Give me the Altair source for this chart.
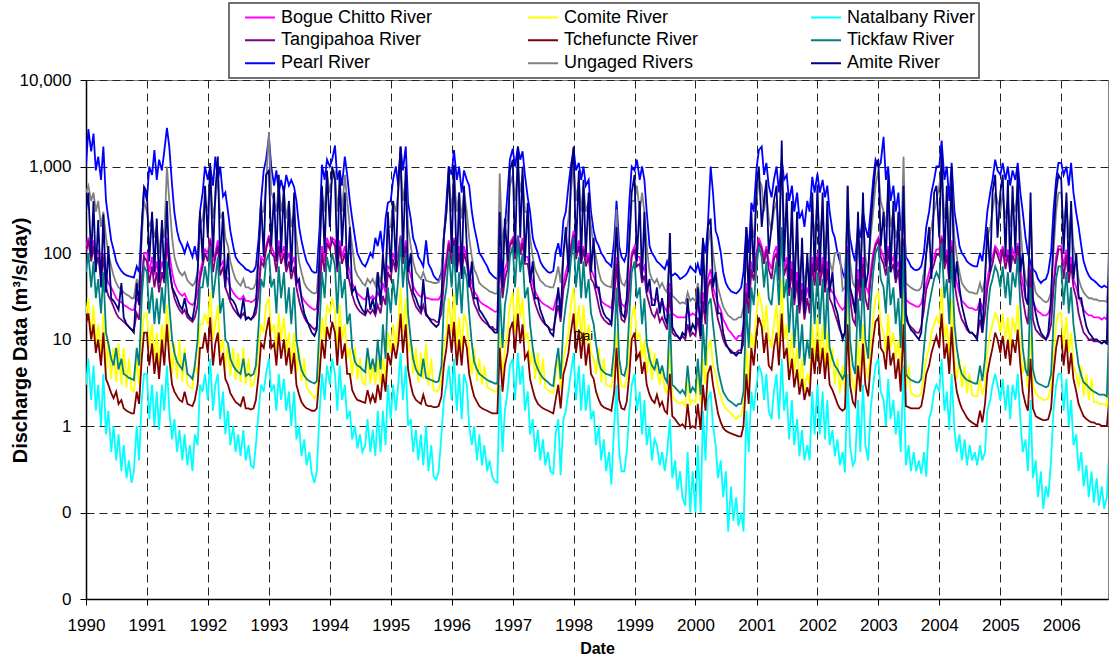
import altair as alt
import pandas as pd

SERIES = ["Bogue Chitto River", "Comite River", "Natalbany River",
          "Tangipahoa River", "Tchefuncte River", "Tickfaw River",
          "Pearl River", "Ungaged Rivers", "Amite River"]
COLORS = ["#FF00FF", "#FFFF00", "#00FFFF", "#800080", "#800000",
          "#008080", "#0000FF", "#808080", "#000080"]
YEARS = list(range(1990, 2007))

# semi-monthly readings (1st and 15th of each month), one row per year, 1990 .. Oct 2006
pearl = [
    [1000, 2700, 1500, 2400, 900, 1300, 700, 1700, 400, 250, 140, 110, 80, 70, 62, 58, 55, 54, 53, 52, 70, 60, 200, 580],
    [400, 1000, 800, 1550, 700, 1200, 900, 1500, 2800, 1700, 600, 290, 180, 140, 120, 100, 130, 110, 90, 120, 80, 300, 500, 1000],
    [700, 1000, 600, 1300, 700, 1000, 450, 500, 300, 180, 120, 90, 80, 75, 70, 65, 63, 60, 62, 70, 150, 400, 900, 1200],
    [2200, 1000, 600, 900, 500, 700, 500, 800, 600, 700, 580, 400, 200, 140, 100, 80, 70, 62, 59, 60, 200, 1050, 700, 1200],
    [1000, 1200, 1750, 700, 900, 600, 1300, 800, 400, 250, 150, 100, 85, 75, 70, 80, 100, 90, 150, 120, 180, 100, 250, 380],
    [400, 700, 1000, 600, 1700, 900, 1700, 380, 250, 150, 120, 90, 80, 70, 140, 75, 65, 55, 50, 48, 60, 150, 400, 1000],
    [800, 1550, 700, 1000, 500, 900, 700, 600, 300, 200, 140, 100, 90, 80, 70, 60, 55, 52, 50, 55, 150, 200, 500, 1200],
    [1600, 1000, 1700, 1200, 1500, 800, 440, 300, 150, 120, 100, 80, 70, 65, 60, 59, 62, 100, 130, 90, 240, 300, 600, 1000],
    [1600, 900, 1100, 700, 1000, 600, 700, 300, 180, 140, 120, 100, 90, 80, 75, 70, 140, 400, 120, 90, 80, 100, 400, 1000],
    [900, 1200, 700, 1000, 700, 300, 120, 100, 90, 80, 75, 70, 65, 80, 60, 55, 58, 55, 50, 52, 55, 60, 70, 65],
    [60, 75, 55, 140, 100, 200, 1000, 500, 180, 150, 100, 60, 45, 40, 36, 35, 34, 36, 40, 60, 200, 100, 380, 300],
    [950, 1550, 1700, 800, 1100, 600, 440, 700, 1000, 500, 1200, 700, 800, 400, 600, 300, 500, 250, 300, 200, 400, 300, 760, 500],
    [830, 500, 700, 440, 600, 300, 180, 150, 100, 80, 60, 50, 300, 150, 100, 80, 200, 150, 300, 200, 150, 300, 700, 1200],
    [1000, 1100, 2200, 700, 1000, 400, 600, 300, 500, 180, 300, 90, 80, 70, 65, 63, 65, 70, 100, 200, 300, 500, 700, 1000],
    [1000, 2000, 700, 1000, 400, 1100, 300, 200, 120, 100, 90, 80, 75, 72, 70, 70, 100, 80, 150, 300, 500, 700, 1200, 900],
    [800, 1100, 700, 1000, 600, 900, 700, 1100, 500, 300, 150, 100, 77, 65, 60, 50, 45, 48, 50, 60, 100, 300, 700, 1100],
    [1100, 800, 1000, 600, 1100, 500, 290, 200, 120, 80, 63, 55, 50, 48, 45, 42, 40, 42, 40, 40],
]

amite = [
    [300, 500, 90, 400, 60, 240, 40, 280, 35, 120, 30, 28, 25, 22, 45, 18, 15, 14, 13, 12, 45, 25, 200, 580],
    [500, 80, 300, 60, 250, 45, 240, 50, 400, 70, 40, 35, 30, 25, 22, 30, 20, 18, 17, 25, 60, 300, 80, 600],
    [150, 1100, 90, 500, 1300, 70, 300, 40, 100, 30, 28, 25, 20, 18, 30, 17, 18, 17, 19, 25, 100, 400, 90, 800],
    [900, 120, 500, 80, 800, 100, 600, 70, 400, 60, 500, 45, 50, 30, 20, 17, 14, 12, 11, 13, 100, 600, 100, 900],
    [200, 1000, 700, 70, 900, 120, 500, 50, 200, 35, 40, 30, 25, 22, 20, 40, 22, 30, 20, 60, 25, 100, 40, 300],
    [60, 400, 70, 600, 1700, 90, 1000, 60, 100, 35, 30, 25, 22, 50, 20, 18, 16, 15, 14, 15, 30, 150, 300, 1000],
    [100, 1050, 60, 500, 50, 600, 120, 40, 80, 30, 30, 22, 20, 18, 16, 14, 13, 12, 12, 300, 40, 250, 80, 900],
    [1200, 100, 1700, 150, 1000, 80, 380, 45, 80, 30, 30, 22, 18, 15, 14, 12, 11, 20, 40, 18, 100, 200, 60, 700],
    [1700, 100, 900, 80, 700, 90, 500, 60, 150, 40, 40, 25, 20, 18, 17, 15, 60, 200, 40, 20, 18, 30, 150, 500],
    [800, 80, 400, 50, 300, 35, 50, 25, 25, 40, 20, 30, 18, 15, 170, 14, 12, 11, 10, 12, 11, 30, 12, 15],
    [13, 40, 11, 150, 20, 200, 250, 40, 60, 20, 20, 12, 9, 8, 7, 7, 6.5, 7, 7, 15, 200, 30, 300, 60],
    [600, 1000, 200, 400, 700, 100, 200, 400, 600, 70, 2000, 80, 500, 40, 400, 30, 300, 25, 150, 20, 100, 30, 500, 60],
    [600, 60, 500, 40, 400, 35, 60, 25, 20, 14, 10, 12, 600, 40, 30, 20, 300, 40, 500, 40, 60, 200, 500, 1000],
    [1200, 120, 300, 70, 800, 60, 400, 50, 300, 30, 600, 20, 15, 13, 12, 11, 10, 12, 40, 100, 200, 50, 500, 600],
    [150, 1500, 80, 600, 50, 1000, 40, 80, 40, 25, 18, 14, 12, 12, 11, 10, 30, 12, 50, 200, 60, 500, 800, 150],
    [500, 800, 90, 700, 60, 600, 100, 900, 60, 100, 30, 25, 500, 30, 20, 15, 12, 11, 10, 12, 30, 150, 500, 800],
    [700, 100, 500, 60, 400, 50, 100, 30, 30, 20, 14, 12, 11, 10, 10, 9.5, 9, 9.5, 9, 150],
]

ungaged = [
    [500, 600, 400, 500, 300, 400, 200, 300, 150, 100, 70, 55, 45, 40, 38, 35, 33, 32, 30, 30, 50, 40, 150, 400],
    [300, 200, 250, 150, 200, 100, 200, 150, 1000, 400, 150, 90, 70, 60, 55, 60, 48, 45, 42, 45, 60, 200, 250, 400],
    [300, 800, 250, 400, 800, 250, 300, 150, 120, 80, 60, 50, 45, 42, 50, 40, 40, 38, 39, 45, 100, 300, 300, 600],
    [2500, 500, 400, 300, 600, 300, 500, 250, 400, 200, 300, 150, 80, 60, 45, 40, 37, 35, 34, 35, 100, 500, 300, 800],
    [500, 700, 900, 300, 600, 300, 800, 400, 200, 120, 65, 55, 50, 45, 42, 50, 45, 50, 42, 60, 45, 80, 60, 200],
    [200, 400, 300, 500, 1000, 400, 700, 200, 120, 80, 60, 55, 50, 60, 48, 47, 46, 45, 45, 46, 55, 150, 300, 700],
    [300, 800, 300, 500, 250, 500, 300, 150, 90, 65, 55, 45, 42, 40, 38, 36, 35, 34, 34, 830, 100, 200, 250, 600],
    [800, 400, 1000, 500, 800, 300, 300, 150, 90, 65, 55, 48, 45, 42, 41, 40, 40, 50, 70, 45, 100, 150, 250, 500],
    [1000, 400, 700, 300, 600, 300, 400, 200, 120, 90, 60, 48, 44, 42, 41, 40, 80, 320, 60, 45, 42, 50, 120, 400],
    [400, 600, 300, 500, 300, 120, 60, 50, 45, 50, 40, 45, 38, 35, 100, 32, 30, 28, 26, 27, 26, 35, 28, 30],
    [28, 45, 26, 80, 40, 120, 200, 100, 60, 40, 30, 24, 21, 19, 18, 17, 17, 18, 18, 24, 100, 40, 200, 150],
    [400, 700, 600, 300, 500, 250, 180, 300, 400, 150, 1200, 200, 300, 90, 250, 60, 150, 50, 100, 40, 80, 50, 300, 150],
    [400, 150, 300, 100, 200, 80, 60, 100, 100, 100, 37, 40, 600, 80, 45, 40, 200, 60, 300, 90, 60, 150, 300, 600],
    [900, 400, 300, 200, 500, 200, 300, 150, 200, 80, 1300, 45, 42, 40, 38, 37, 37, 40, 60, 100, 150, 200, 300, 400],
    [600, 1000, 250, 400, 150, 700, 150, 90, 60, 45, 40, 37, 35, 35, 34, 34, 45, 35, 50, 150, 200, 300, 500, 400],
    [300, 500, 250, 400, 200, 400, 300, 600, 200, 90, 50, 40, 300, 50, 35, 32, 30, 28, 27, 28, 35, 100, 300, 500],
    [500, 200, 400, 150, 300, 120, 80, 50, 40, 35, 32, 30, 30, 29, 29, 28, 28, 28, 27, 60],
]

bogue_chitto = [
    [120, 150, 100, 140, 90, 110, 70, 100, 55, 45, 40, 35, 30, 28, 27, 25, 24, 23, 22, 22, 30, 26, 50, 100],
    [100, 60, 90, 55, 80, 50, 80, 60, 150, 100, 60, 45, 38, 34, 32, 34, 28, 26, 25, 27, 35, 60, 80, 110],
    [100, 150, 80, 100, 140, 70, 80, 55, 50, 40, 35, 32, 30, 29, 32, 28, 28, 27, 28, 30, 45, 90, 80, 120],
    [160, 120, 100, 80, 140, 90, 120, 80, 100, 70, 90, 55, 40, 32, 28, 26, 24, 23, 22, 23, 45, 120, 80, 150],
    [120, 150, 140, 80, 140, 90, 120, 80, 60, 45, 38, 34, 32, 30, 29, 33, 30, 32, 29, 35, 30, 45, 35, 70],
    [65, 100, 80, 100, 160, 90, 140, 70, 55, 42, 36, 33, 31, 35, 30, 30, 29, 29, 29, 29, 33, 60, 90, 140],
    [90, 150, 80, 120, 70, 120, 90, 60, 45, 36, 32, 28, 26, 25, 24, 23, 22, 21, 21, 100, 40, 65, 80, 130],
    [150, 100, 160, 110, 150, 90, 90, 60, 45, 36, 31, 28, 26, 25, 24, 23, 22, 28, 35, 25, 45, 60, 80, 120],
    [180, 100, 140, 90, 120, 80, 100, 65, 55, 45, 35, 28, 26, 25, 24, 23, 40, 90, 35, 26, 24, 28, 50, 100],
    [120, 90, 90, 60, 70, 45, 35, 30, 28, 30, 25, 28, 23, 21, 45, 20, 19, 18, 18, 18, 18, 22, 19, 20],
    [19, 25, 18, 35, 24, 50, 65, 40, 32, 26, 22, 17, 15, 13, 12, 11, 10, 11, 11, 14, 45, 25, 80, 60],
    [100, 150, 120, 90, 120, 80, 65, 100, 120, 60, 180, 70, 90, 45, 80, 35, 60, 30, 45, 26, 40, 30, 90, 55],
    [100, 55, 90, 45, 80, 40, 35, 32, 27, 24, 22, 24, 120, 40, 26, 24, 65, 38, 90, 42, 35, 60, 100, 130],
    [150, 110, 90, 70, 120, 75, 90, 60, 80, 45, 150, 29, 27, 26, 25, 24, 24, 26, 35, 45, 60, 75, 90, 110],
    [110, 160, 80, 110, 60, 140, 60, 45, 34, 28, 26, 24, 23, 23, 22, 22, 28, 23, 30, 50, 75, 90, 120, 110],
    [90, 120, 80, 110, 75, 110, 90, 130, 65, 45, 30, 26, 80, 28, 23, 21, 20, 19, 19, 20, 24, 45, 90, 120],
    [120, 70, 110, 60, 90, 50, 40, 32, 26, 22, 20, 19, 19, 18, 18, 18, 17, 18, 17, 25],
]

tangipahoa = [
    [100, 140, 80, 120, 70, 90, 50, 90, 40, 32, 28, 24, 20, 18, 17, 16, 15, 14, 13, 13, 20, 17, 45, 90],
    [80, 45, 70, 40, 60, 35, 60, 45, 130, 70, 40, 30, 25, 22, 20, 22, 18, 17, 16, 18, 25, 50, 70, 100],
    [80, 140, 60, 90, 120, 55, 70, 40, 33, 27, 23, 21, 19, 18, 20, 18, 18, 17, 18, 20, 35, 80, 70, 110],
    [150, 100, 90, 60, 120, 75, 100, 60, 80, 50, 70, 40, 28, 22, 18, 16, 15, 14, 13, 14, 35, 100, 60, 130],
    [110, 140, 120, 60, 120, 75, 100, 60, 45, 33, 26, 23, 21, 20, 19, 22, 20, 22, 19, 25, 20, 32, 25, 60],
    [50, 85, 60, 85, 150, 75, 120, 50, 38, 30, 24, 22, 20, 25, 19, 18, 17, 17, 16, 16, 20, 45, 75, 130],
    [75, 140, 60, 100, 55, 100, 75, 48, 35, 26, 22, 19, 17, 16, 15, 14, 14, 13, 13, 85, 30, 50, 65, 120],
    [140, 85, 150, 95, 130, 75, 75, 48, 35, 26, 21, 18, 16, 15, 14, 13, 13, 18, 25, 16, 38, 48, 65, 110],
    [160, 85, 120, 75, 110, 70, 90, 50, 45, 35, 24, 19, 17, 16, 15, 15, 30, 75, 25, 17, 16, 20, 40, 90],
    [110, 70, 75, 45, 55, 33, 25, 20, 18, 22, 16, 18, 15, 13, 35, 12, 11, 11, 10, 11, 10, 15, 11, 12],
    [11, 18, 10, 28, 15, 40, 50, 32, 24, 17, 13, 10, 8.5, 8, 7.5, 7, 7, 7.5, 7.5, 9, 35, 20, 65, 48],
    [90, 130, 110, 75, 110, 65, 50, 85, 100, 48, 170, 55, 75, 32, 65, 25, 48, 20, 38, 17, 30, 20, 75, 42],
    [90, 42, 75, 35, 65, 30, 25, 20, 16, 13, 11, 12, 110, 30, 17, 15, 50, 28, 75, 30, 22, 48, 85, 120],
    [140, 90, 75, 55, 110, 60, 75, 45, 65, 30, 140, 17, 15, 14, 13, 12, 12, 14, 22, 38, 48, 60, 75, 95],
    [95, 150, 65, 95, 45, 120, 45, 30, 21, 17, 15, 13, 12, 12, 11, 11, 17, 12, 20, 40, 60, 75, 110, 95],
    [75, 110, 65, 95, 60, 95, 75, 120, 50, 30, 19, 15, 65, 17, 13, 12, 11, 10.5, 10, 11, 15, 38, 75, 110],
    [110, 50, 95, 45, 75, 40, 30, 20, 15, 12, 11, 10, 10, 9.5, 9.5, 9.5, 9, 9.5, 9, 20],
]

tickfaw = [
    [60, 100, 40, 80, 30, 50, 20, 60, 12, 9, 6, 5, 8, 4.5, 6, 4, 3.8, 3.6, 3.5, 3.4, 8, 5, 30, 70],
    [60, 20, 40, 15, 30, 15, 40, 20, 80, 25, 10, 7, 5.5, 5, 4.5, 7, 4, 3.8, 3.5, 5, 10, 40, 40, 70],
    [40, 120, 30, 50, 90, 20, 30, 10, 9, 6, 5, 4.5, 4.2, 4, 6, 3.8, 4, 3.8, 4, 5, 15, 50, 40, 80],
    [100, 40, 50, 20, 70, 30, 60, 20, 40, 15, 40, 10, 6, 4.5, 3.8, 3.5, 3.3, 3.2, 3.1, 3.3, 15, 60, 30, 90],
    [60, 100, 70, 20, 80, 30, 50, 15, 20, 8, 5.5, 5, 4.8, 4.5, 4.2, 8, 4.5, 6, 4.2, 10, 4.5, 15, 6, 40],
    [20, 50, 25, 50, 150, 40, 100, 20, 10, 6, 4.5, 4, 3.8, 6, 3.6, 3.5, 3.4, 3.3, 3.2, 3.3, 5, 25, 40, 100],
    [40, 120, 25, 60, 20, 70, 50, 20, 9, 5.5, 4.5, 4, 3.8, 3.6, 3.4, 3.3, 3.2, 3.1, 3.1, 40, 8, 25, 40, 90],
    [120, 40, 150, 60, 100, 30, 40, 15, 8, 5.5, 4.5, 4, 3.6, 3.4, 3.2, 3, 2.9, 5, 8, 3.5, 15, 25, 40, 80],
    [150, 40, 90, 30, 80, 30, 50, 20, 15, 9, 5.5, 4.5, 4.2, 4, 3.9, 3.8, 8, 40, 6, 4, 3.8, 5, 20, 60],
    [80, 30, 40, 15, 30, 9, 6, 5, 4.5, 6, 4, 5, 3.6, 3.2, 20, 3, 2.8, 2.6, 2.4, 2.6, 2.3, 5, 2.4, 2.8],
    [2.5, 6, 2.3, 15, 5, 25, 30, 15, 8, 4.5, 3.2, 2.5, 2.2, 2, 1.9, 1.8, 1.7, 1.8, 1.8, 2.5, 25, 8, 40, 25],
    [70, 120, 90, 40, 80, 30, 25, 50, 80, 25, 200, 30, 50, 12, 40, 8, 25, 6, 15, 5, 10, 6, 50, 15],
    [60, 15, 50, 10, 40, 8, 6, 5, 4.5, 4, 3.5, 4, 100, 10, 5, 4, 30, 10, 50, 10, 6, 25, 60, 100],
    [120, 50, 40, 20, 70, 25, 40, 15, 30, 8, 120, 4, 3.6, 3.4, 3.3, 3.2, 3.2, 3.5, 8, 15, 25, 35, 50, 60],
    [50, 130, 30, 50, 15, 100, 15, 8, 5, 4, 3.6, 3.4, 3.3, 3.2, 3.1, 3.1, 5, 3.3, 6, 20, 40, 50, 70, 60],
    [40, 70, 30, 60, 25, 60, 40, 90, 25, 8, 4.5, 3.8, 40, 4.5, 3.3, 3.1, 3, 2.9, 2.8, 2.9, 4, 15, 50, 70],
    [70, 25, 60, 20, 40, 15, 8, 5, 3.8, 3.2, 3, 2.8, 2.6, 2.5, 2.4, 2.3, 2.3, 2.3, 2.2, 14],
]

comite = [
    [20, 30, 10, 25, 8, 15, 6, 20, 4, 10, 3.5, 8, 3.2, 9, 3, 8, 2.8, 6, 2.6, 2.5, 6, 3, 10, 20],
    [20, 8, 15, 6, 12, 5, 15, 8, 25, 10, 4, 9, 3.5, 10, 3.2, 8, 3, 2.8, 2.7, 5, 4, 15, 15, 20],
    [15, 35, 10, 15, 25, 7, 10, 4.5, 9, 3.8, 8, 3.4, 7, 3.2, 8, 3, 6, 2.9, 3, 4, 8, 15, 12, 25],
    [30, 12, 15, 7, 20, 10, 18, 7, 12, 5, 12, 4, 8, 3.3, 6, 2.8, 2.5, 2.3, 2.1, 2.3, 6, 18, 10, 25],
    [20, 30, 22, 7, 25, 10, 15, 6, 8, 3.8, 8, 3.4, 6, 3.2, 3, 7, 3.1, 5, 3, 6, 3, 6, 3.5, 12],
    [7, 15, 8, 15, 40, 12, 30, 7, 10, 4, 8, 3.2, 7, 3.5, 9, 2.9, 6, 2.6, 2.5, 2.6, 3.5, 8, 12, 30],
    [12, 35, 8, 18, 7, 20, 15, 7, 4, 8, 3.3, 6, 3, 5, 2.8, 2.7, 2.6, 2.5, 2.5, 12, 3.5, 8, 12, 25],
    [35, 12, 40, 18, 30, 10, 12, 5, 8, 3.5, 7, 3, 6, 2.8, 2.6, 2.5, 2.4, 4, 6, 2.7, 6, 8, 12, 25],
    [40, 12, 25, 10, 25, 9, 15, 7, 6, 4, 8, 3.2, 6, 3, 2.9, 2.8, 5, 12, 4, 2.9, 2.8, 3.5, 7, 18],
    [25, 10, 12, 6, 10, 4, 8, 3.4, 7, 4.5, 3, 5, 2.6, 2.4, 8, 2.2, 2, 1.9, 1.8, 1.9, 1.7, 3.5, 1.8, 2],
    [1.9, 4, 1.8, 6, 3, 8, 10, 5, 4, 2.8, 2.2, 1.8, 1.6, 1.5, 1.4, 1.3, 1.2, 1.3, 1.3, 1.8, 8, 3, 12, 8],
    [20, 35, 25, 12, 25, 10, 8, 15, 25, 8, 50, 10, 15, 5, 12, 4, 8, 3, 6, 2.5, 4, 3, 15, 6],
    [18, 6, 15, 5, 12, 4.5, 8, 3, 6, 2.4, 5, 2.5, 30, 5, 3, 2.5, 10, 4, 15, 5, 3.5, 8, 18, 30],
    [35, 15, 12, 7, 20, 8, 12, 6, 10, 4, 35, 2.8, 5, 2.4, 2.3, 2.2, 2.2, 2.4, 4, 6, 8, 12, 15, 18],
    [15, 40, 10, 15, 6, 30, 6, 3.5, 6, 2.8, 5, 2.4, 4, 2.3, 2.2, 2.2, 3.5, 2.3, 3, 7, 12, 15, 20, 18],
    [12, 20, 10, 18, 8, 18, 12, 25, 8, 4, 6, 2.7, 12, 3, 2.4, 2.2, 2.1, 2, 2, 2.1, 2.8, 6, 15, 20],
    [20, 8, 18, 7, 12, 5, 4, 2.8, 5, 2.2, 4, 2, 3.5, 1.9, 1.9, 1.8, 1.8, 1.8, 1.7, 6],
]

tchefuncte = [
    [15, 20, 10, 15, 7, 10, 5, 12, 3.5, 3, 2.4, 2.1, 2.5, 1.8, 2, 1.6, 1.5, 1.45, 1.4, 1.4, 2.5, 1.8, 6, 12],
    [12, 5, 9, 4, 7, 3.5, 10, 5, 15, 6, 3, 2.5, 2.2, 2, 1.9, 2.5, 1.8, 1.75, 1.7, 2, 3, 8, 8, 12],
    [7, 18, 5, 9, 12, 5, 7, 3.5, 3, 2.4, 2.1, 1.9, 1.8, 1.7, 2.2, 1.6, 1.6, 1.55, 1.6, 2, 4, 9, 8, 12],
    [18, 8, 9, 5, 12, 6, 10, 5, 8, 4, 7, 3, 2.3, 1.9, 1.7, 1.6, 1.55, 1.5, 1.5, 1.6, 4, 10, 6, 14],
    [10, 16, 12, 5, 14, 6, 9, 4, 4, 2.6, 2.2, 2, 1.95, 1.9, 1.85, 2.6, 1.9, 2.3, 1.85, 3, 2, 4, 2.5, 7],
    [5, 9, 6, 9, 20, 7, 15, 4.5, 3, 2.3, 2, 1.9, 1.8, 2.3, 1.75, 1.7, 1.7, 1.65, 1.65, 1.7, 2.2, 5, 8, 15],
    [7, 16, 5, 10, 5, 11, 8, 4, 2.8, 2.2, 1.9, 1.7, 1.6, 1.55, 1.5, 1.45, 1.4, 1.4, 1.4, 8, 2.5, 5, 7, 13],
    [16, 7, 20, 9, 15, 6, 7, 3.5, 2.6, 2.1, 1.8, 1.7, 1.6, 1.55, 1.5, 1.45, 1.4, 2, 3, 1.6, 4, 5, 7, 12],
    [20, 7, 13, 6, 12, 5, 9, 4, 3.5, 2.5, 2, 1.75, 1.65, 1.6, 1.55, 1.5, 2.5, 8, 2, 1.6, 1.55, 1.9, 4, 10],
    [12, 6, 7, 4, 5.5, 3, 2.3, 2, 1.85, 2.3, 1.7, 1.9, 1.5, 1.4, 4, 1.3, 1.2, 1.1, 1.0, 1.05, 0.95, 1.8, 0.95, 1.0],
    [0.95, 1.8, 0.9, 3, 1.5, 4, 5, 3, 2, 1.4, 1.1, 0.95, 0.88, 0.85, 0.82, 0.8, 0.78, 0.76, 0.76, 1, 4, 1.8, 8, 5],
    [12, 18, 14, 7, 12, 5, 4.5, 8, 12, 5, 20, 6, 8, 3.4, 6, 2.8, 4.5, 2.3, 3.5, 2, 2.8, 2.2, 8, 4],
    [10, 4, 8, 3.5, 7, 3, 2.6, 2.2, 1.8, 1.6, 1.5, 1.6, 15, 3, 1.9, 1.7, 5, 2.5, 9, 3, 2.2, 5, 10, 16],
    [18, 8, 7, 4.5, 11, 5, 7, 3.5, 6, 2.5, 15, 1.7, 1.65, 1.6, 1.6, 1.6, 1.6, 1.7, 2.5, 4, 5, 7, 9, 11],
    [8, 20, 6, 9, 4, 14, 4, 2.5, 1.9, 1.6, 1.4, 1.25, 1.15, 1.1, 1.05, 1.0, 1.5, 1.1, 1.8, 4, 6, 8, 12, 10],
    [7, 11, 6, 10, 5, 10, 7, 13, 5, 2.5, 1.8, 1.5, 6, 1.6, 1.3, 1.25, 1.2, 1.17, 1.17, 1.2, 1.6, 4, 8, 11],
    [11, 5, 10, 4, 7, 3.5, 2.5, 1.8, 1.5, 1.3, 1.2, 1.15, 1.1, 1.1, 1.05, 1.05, 1.0, 1.0, 1.0, 2],
]

natalbany = [
    [3, 6, 2, 5, 1.5, 3, 1, 4, 0.8, 1.5, 0.5, 1, 0.4, 0.8, 0.3, 0.6, 0.25, 0.4, 0.22, 0.3, 1, 0.4, 2, 4],
    [4, 1.2, 3, 1, 2.5, 0.9, 3, 1.5, 5, 1.5, 0.7, 1.2, 0.5, 0.9, 0.4, 0.8, 0.35, 0.6, 0.3, 0.8, 0.6, 3, 2.5, 4],
    [2, 6, 1.5, 3, 4, 1.2, 2.5, 0.8, 1.5, 0.6, 1, 0.5, 0.8, 0.45, 0.9, 0.4, 0.6, 0.35, 0.33, 0.6, 1.5, 3, 2.5, 4],
    [6, 2.5, 3, 1.5, 4, 2, 3.5, 1.5, 2.5, 1, 2.5, 0.7, 1, 0.45, 0.7, 0.35, 0.5, 0.28, 0.22, 0.3, 1.5, 4, 2, 5],
    [3, 6, 4, 1.5, 5, 2, 3, 1.2, 1.5, 0.7, 1, 0.55, 0.8, 0.5, 0.6, 1.2, 0.5, 0.9, 0.45, 1.5, 0.5, 1.5, 0.6, 3],
    [1.2, 3, 1.5, 3, 7, 2, 5, 1, 1.2, 0.5, 0.9, 0.4, 0.8, 0.35, 1, 0.3, 0.6, 0.26, 0.24, 0.3, 0.8, 2, 3, 5],
    [2, 6, 1.5, 4, 1.2, 4, 3, 1, 0.6, 1, 0.4, 0.8, 0.35, 0.6, 0.3, 0.4, 0.26, 0.23, 0.22, 3, 0.5, 1.5, 2.5, 5],
    [6, 2, 7, 3, 5, 1.5, 2.5, 0.8, 1.2, 0.5, 0.9, 0.4, 0.7, 0.35, 0.5, 0.3, 0.28, 0.8, 1.2, 0.27, 1.2, 1.5, 2.5, 4],
    [7, 2, 5, 1.5, 4, 1.5, 3, 1.2, 1.5, 0.6, 1, 0.4, 0.7, 0.3, 0.5, 0.21, 1, 3, 0.5, 0.3, 0.3, 0.5, 1.5, 3],
    [4, 1.5, 2.5, 0.8, 2, 0.6, 1, 0.4, 0.7, 0.6, 0.35, 0.5, 0.3, 0.5, 1.2, 0.25, 0.4, 0.18, 0.3, 0.15, 0.12, 0.5, 0.1, 0.3],
    [0.1, 0.6, 0.1, 1.5, 0.4, 2, 2.5, 1, 0.6, 0.25, 0.4, 0.15, 0.3, 0.06, 0.2, 0.08, 0.15, 0.07, 0.1, 0.06, 1.5, 0.5, 2.5, 1.5],
    [3, 5, 4, 2, 4, 1.5, 1.2, 2.5, 4, 1.2, 6, 1.5, 2.5, 0.7, 2, 0.6, 1.2, 0.45, 0.9, 0.4, 0.6, 0.4, 2.5, 0.8],
    [3, 0.8, 2.5, 0.7, 2, 0.6, 0.9, 0.45, 0.7, 0.35, 0.5, 0.29, 4, 0.6, 0.35, 0.4, 2, 0.5, 3, 0.6, 0.4, 1.5, 3, 5],
    [6, 2.5, 2, 1, 3.5, 1.2, 2, 0.8, 1.5, 0.5, 5, 0.35, 0.6, 0.3, 0.5, 0.3, 0.4, 0.28, 0.5, 0.26, 1.2, 1.5, 2.5, 3],
    [2.5, 6, 1.5, 2.5, 0.9, 4, 0.9, 0.5, 0.8, 0.4, 0.7, 0.35, 0.6, 0.4, 0.5, 0.35, 0.6, 0.4, 0.5, 1.5, 2, 3, 4, 3],
    [2, 3.5, 1.5, 3, 1.2, 3, 2, 4, 1.2, 0.5, 0.7, 0.3, 2, 0.25, 0.4, 0.15, 0.3, 0.11, 0.2, 0.15, 0.4, 1.5, 3, 4],
    [4, 1.5, 3.5, 1, 2, 0.6, 0.8, 0.3, 0.5, 0.2, 0.35, 0.15, 0.3, 0.13, 0.25, 0.12, 0.2, 0.11, 0.15, 0.5],
]

VALUES = {
    "Bogue Chitto River": bogue_chitto,
    "Comite River": comite,
    "Natalbany River": natalbany,
    "Tangipahoa River": tangipahoa,
    "Tchefuncte River": tchefuncte,
    "Tickfaw River": tickfaw,
    "Pearl River": pearl,
    "Ungaged Rivers": ungaged,
    "Amite River": amite,
}

rows = []
for name in SERIES:
    vals = [v for year in VALUES[name] for v in year]
    dates = pd.date_range("1990-01-01", periods=len(vals), freq="SMS")
    for d, v in zip(dates, vals):
        rows.append({"date": d.strftime("%Y-%m-%dT00:00:00"), "series": name, "value": v})
df = pd.DataFrame(rows)

stray = pd.DataFrame({"date": ["1998-01-01T00:00:00"], "value": [11], "label": ["Dai"]})

FONT = "Liberation Sans"

x_enc = alt.X(
    "date:T",
    scale=alt.Scale(domain=[alt.DateTime(year=1990, month=1, date=1),
                            alt.DateTime(year=2006, month=10, date=8)], nice=False),
    axis=alt.Axis(
        values=[alt.DateTime(year=y, month=1, date=1) for y in YEARS],
        format="%Y", labelAngle=0, labelFont=FONT, labelFontSize=17,
        labelColor="black", labelPadding=12, labelFlush=False,
        tickSize=6, tickColor="black", domainColor="black", domainWidth=1.5,
        title="Date", titleFont=FONT, titleFontSize=16, titleFontWeight="bold",
        titleColor="black", titleY=49, titleBaseline="middle",
        grid=True,
    ),
)
y_enc = alt.Y(
    "value:Q",
    scale=alt.Scale(type="log", domain=[0.01, 10000], nice=False),
    axis=alt.Axis(
        values=[0.01, 0.1, 1, 10, 100, 1000, 10000], format=",.0f",
        labelFont=FONT, labelFontSize=17, labelColor="black", labelPadding=9,
        tickSize=6, tickColor="black", domainColor="black", domainWidth=1.5,
        title="Discharge Data (m³/s/day)", titleFont=FONT, titleFontSize=20,
        titleFontWeight="bold", titleColor="black", titleAngle=270,
        titleX=-66, titleY=260, titleAlign="center", titleBaseline="middle",
        grid=True,
    ),
)
color_enc = alt.Color(
    "series:N",
    scale=alt.Scale(domain=SERIES, range=COLORS),
    legend=alt.Legend(
        title=None, orient="none", legendX=143, legendY=-77, columns=3,
        direction="horizontal", gridAlign="all",
        symbolType="stroke", symbolSize=900, symbolStrokeWidth=2,
        symbolOffset=12, labelOffset=5, labelFont=FONT, labelFontSize=18,
        labelColor="black", labelLimit=300, columnPadding=82, rowPadding=0,
        clipHeight=22.5, padding=3, strokeColor="#444", fillColor="white",
    ),
)

layers = [
    alt.Chart(df).transform_filter(alt.datum.series == name)
    .mark_line(strokeWidth=1.8, clip=True)
    .encode(x=x_enc, y=y_enc, color=color_enc)
    for name in SERIES
]
text_layer = alt.Chart(stray).mark_text(
    align="left", baseline="middle", font=FONT, fontSize=13, color="black"
).encode(x="date:T", y="value:Q", text="label:N")

chart = (
    alt.layer(*layers, text_layer)
    .properties(width=1022, height=519,
                autosize=alt.AutoSizeParams(type="none"),
                padding={"left": 86, "top": 80, "right": 2, "bottom": 60},
                background="white")
    .configure_view(stroke="#808080", strokeWidth=1)
    .configure_axis(gridDash=[8, 5], gridColor="#222", gridWidth=1, gridOpacity=1)
    .configure_legend(strokeWidth=1.5)
)

chart.save("out.html", embed_options={"renderer": "svg", "actions": False})
